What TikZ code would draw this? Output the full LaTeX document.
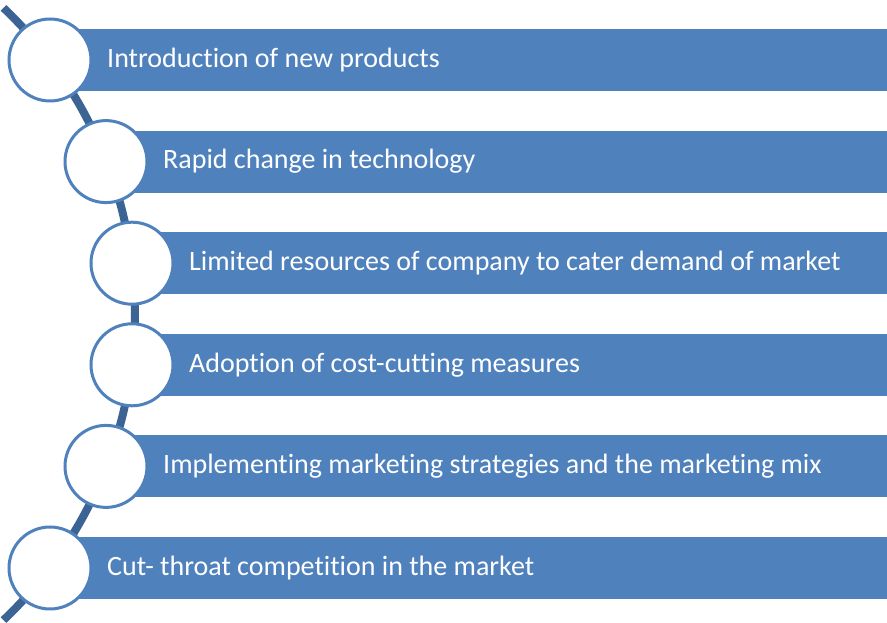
\documentclass[tikz,border=0pt]{standalone}
\usepackage{fontspec}
\setmainfont{Carlito}[Ligatures=NoCommon]
\usepackage{tikz}
\usetikzlibrary{positioning}
\definecolor{barblue}{HTML}{4F81BD}
\definecolor{lineblue}{HTML}{3B6394}
\tikzset{
  bar/.style={fill=barblue, minimum height=62pt, inner sep=0pt, anchor=west},
  ring/.style={circle, draw=barblue, line width=3pt, fill=white, minimum size=82pt, inner sep=0pt},
  caption/.style={text=white, anchor=west, inner sep=0pt, font=\fontsize{28}{32}\selectfont},
}

\begin{document}
\begin{tikzpicture}[x=1pt, y=1pt]
    \useasboundingbox (0,0) rectangle (887,623);
    \coordinate (o) at (-287,309);
    \coordinate (top) at ([shift={(46.5:422)}]o);
    \draw[lineblue, line width=8pt] (top) arc[start angle=46.5, end angle=-46.5, radius=422];

    \foreach \i/\x/\txt in {1/50/Introduction of new products,
                            2/106/Rapid change in technology,
                            3/132/Limited resources of company to cater demand of market,
                            4/132/Adoption of cost-cutting measures,
                            5/106/Implementing marketing strategies and the marketing mix,
                            6/50/Cut- throat competition in the market} {
      \pgfmathsetmacro{\y}{563-(\i-1)*101.6}
      \pgfmathsetmacro{\w}{887-\x}
      \node[bar, minimum width=\w pt] (b\i) at (\x,\y) {};
      \node[caption, right=57pt of b\i.west] (t\i) {\txt};
      \node[ring] (c\i) at (\x,\y) {};
    }
\end{tikzpicture}
\end{document}
